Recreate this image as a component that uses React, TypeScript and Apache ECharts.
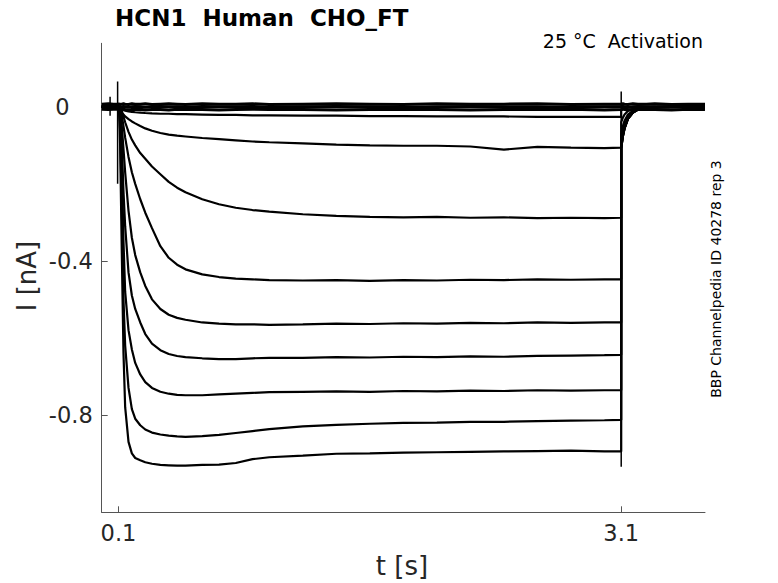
import React, { useEffect, useRef } from "react";
import * as echarts from "echarts";

// time grid (s): pre-step, activation step, plateau, tail after return at 3.1 s
const TIME = [
  0, 0.04, 0.07,
  0.1, 0.105, 0.11, 0.12, 0.13, 0.14, 0.16, 0.18, 0.2, 0.23, 0.26, 0.3, 0.35, 0.4, 0.45, 0.5, 0.6, 0.7, 0.8, 0.9, 1.0,
  1.2, 1.4, 1.6, 1.8, 2.0, 2.2, 2.4, 2.6, 2.8, 3.0, 3.1,
  3.1, 3.11, 3.12, 3.14, 3.17, 3.2, 3.25, 3.3, 3.4, 3.5, 3.6,
];

// currents (nA) per voltage step
const TRACE_A = [
  0.007, 0.008, 0.007,
  0.007, 0.008, 0.006, 0.007, 0.008, 0.007, 0.006, 0.008, 0.007, 0.007, 0.008, 0.006, 0.007, 0.008, 0.007, 0.006, 0.008, 0.007, 0.007, 0.008, 0.006,
  0.007, 0.008, 0.007, 0.006, 0.008, 0.007, 0.007, 0.008, 0.006, 0.007, 0.007,
  0.007, 0.008, 0.007, 0.006, 0.008, 0.007, 0.007, 0.008, 0.006, 0.007, 0.007,
];
const TRACE_B = [
  0, 0.001, -0.001,
  0, 0.001, -0.001, 0, 0.001, 0, -0.001, 0, 0.001, 0, -0.001, 0, 0.001, 0, 0, -0.001, 0.001, 0, 0, 0.001, -0.001,
  0, 0.001, 0, -0.001, 0, 0.001, 0, 0, -0.001, 0, 0,
  0, 0.001, 0, -0.001, 0, 0.001, 0, 0, -0.001, 0, 0,
];
const TRACE_C = [
  -0.006, -0.007, -0.006,
  -0.006, -0.007, -0.008, -0.007, -0.006, -0.007, -0.008, -0.007, -0.007, -0.006, -0.008, -0.007, -0.007, -0.008, -0.006, -0.007, -0.007, -0.008, -0.007, -0.006, -0.007,
  -0.007, -0.008, -0.007, -0.006, -0.007, -0.008, -0.007, -0.007, -0.006, -0.008, -0.007,
  -0.007, -0.006, -0.007, -0.008, -0.007, -0.006, -0.007, -0.007, -0.008, -0.006, -0.007,
];
const TRACE_D = [
  0, 0.001, 0,
  0, -0.004, -0.006, -0.008, -0.009, -0.01, -0.012, -0.013, -0.014, -0.015, -0.016, -0.017, -0.018, -0.018, -0.019, -0.019, -0.02, -0.021, -0.021, -0.022, -0.022,
  -0.023, -0.023, -0.024, -0.024, -0.025, -0.025, -0.025, -0.026, -0.026, -0.026, -0.026,
  -0.01, -0.006, -0.004, -0.002, -0.001, 0, 0, 0, 0, 0, 0,
];
const TRACE_E = [
  0, -0.001, 0,
  0, -0.003, -0.008, -0.015, -0.02, -0.025, -0.032, -0.038, -0.043, -0.05, -0.056, -0.062, -0.068, -0.072, -0.075, -0.077, -0.081, -0.084, -0.087, -0.09, -0.092,
  -0.095, -0.098, -0.1, -0.101, -0.101, -0.103, -0.111, -0.104, -0.106, -0.107, -0.106,
  -0.04, -0.028, -0.02, -0.011, -0.005, -0.003, -0.001, 0, 0, 0, 0,
];
const TRACE_F = [
  0, 0.001, 0,
  0, -0.002, -0.006, -0.012, -0.025, -0.04, -0.065, -0.085, -0.1, -0.12, -0.135, -0.155, -0.175, -0.195, -0.21, -0.222, -0.24, -0.253, -0.262, -0.268, -0.272,
  -0.279, -0.283, -0.286, -0.287, -0.286, -0.288, -0.287, -0.289, -0.288, -0.289, -0.288,
  -0.07, -0.05, -0.036, -0.02, -0.01, -0.005, -0.002, -0.001, 0, 0, 0,
];
const TRACE_G = [
  0, -0.001, 0,
  0, -0.004, -0.01, -0.022, -0.05, -0.08, -0.13, -0.17, -0.2, -0.24, -0.275, -0.315, -0.362, -0.392, -0.41, -0.422, -0.435, -0.442, -0.446, -0.448, -0.45,
  -0.451, -0.45, -0.452, -0.45, -0.451, -0.449, -0.45, -0.448, -0.449, -0.448, -0.448,
  -0.09, -0.065, -0.048, -0.027, -0.013, -0.007, -0.003, -0.001, 0, 0, 0,
];
const TRACE_H = [
  0, 0.001, 0,
  0, -0.005, -0.015, -0.05, -0.11, -0.17, -0.27, -0.34, -0.385, -0.43, -0.465, -0.5, -0.525, -0.54, -0.548, -0.553, -0.56, -0.563, -0.565, -0.565, -0.566,
  -0.565, -0.563, -0.564, -0.562, -0.563, -0.561, -0.562, -0.56, -0.561, -0.56, -0.56,
  -0.1, -0.072, -0.053, -0.03, -0.014, -0.007, -0.003, -0.001, 0, 0, 0,
];
const TRACE_I = [
  0, -0.001, 0,
  0, -0.008, -0.03, -0.1, -0.22, -0.31, -0.43, -0.49, -0.525, -0.56, -0.59, -0.615, -0.632, -0.642, -0.647, -0.65, -0.653, -0.655, -0.655, -0.653, -0.652,
  -0.652, -0.65, -0.651, -0.649, -0.65, -0.648, -0.649, -0.647, -0.646, -0.645, -0.644,
  -0.105, -0.075, -0.055, -0.031, -0.015, -0.007, -0.003, -0.001, 0, 0, 0,
];
const TRACE_J = [
  0, 0.001, 0,
  0, -0.01, -0.04, -0.15, -0.35, -0.48, -0.58, -0.63, -0.665, -0.695, -0.715, -0.73, -0.74, -0.745, -0.748, -0.749, -0.749, -0.747, -0.745, -0.743, -0.741,
  -0.74, -0.739, -0.74, -0.738, -0.739, -0.737, -0.738, -0.736, -0.737, -0.736, -0.736,
  -0.107, -0.076, -0.056, -0.031, -0.015, -0.007, -0.003, -0.001, 0, 0, 0,
];
const TRACE_K = [
  0, -0.001, 0,
  0, -0.015, -0.06, -0.26, -0.5, -0.62, -0.73, -0.785, -0.81, -0.827, -0.838, -0.846, -0.851, -0.854, -0.856, -0.857, -0.855, -0.852, -0.847, -0.842, -0.837,
  -0.83, -0.826, -0.823, -0.821, -0.82, -0.818, -0.818, -0.816, -0.815, -0.814, -0.813,
  -0.107, -0.077, -0.056, -0.031, -0.015, -0.007, -0.003, -0.001, 0, 0, 0,
];
const TRACE_L = [
  0, 0.001, 0,
  0, -0.02, -0.1, -0.38, -0.64, -0.78, -0.87, -0.9, -0.912, -0.918, -0.923, -0.927, -0.93, -0.931, -0.932, -0.932, -0.93, -0.929, -0.925, -0.915, -0.91,
  -0.906, -0.901, -0.9, -0.898, -0.897, -0.896, -0.895, -0.894, -0.893, -0.895, -0.895,
  -0.107, -0.077, -0.056, -0.031, -0.015, -0.007, -0.003, -0.001, 0, 0, 0,
];

const BASE_TRACES = [TRACE_A, TRACE_B, TRACE_C];
const STEP_TRACES = [TRACE_D, TRACE_E, TRACE_F, TRACE_G, TRACE_H, TRACE_I, TRACE_J, TRACE_K, TRACE_L];

// capacitive artefacts: time, top, bottom
const ART_T = [0.05, 0.095, 3.1];
const ART_TOP = [0.026, 0.066, 0.04];
const ART_BOTTOM = [-0.023, -0.2, -0.935];

const X_TICKS = [0.1, 3.1];
const Y_TICKS = [-0.8, -0.4, 0];

const FONT = '"DejaVu Sans", sans-serif';
const INK = "#262626";

export default function App() {
  const ref = useRef<HTMLDivElement>(null);

  useEffect(() => {
    if (!ref.current) return;
    const chart = echarts.init(ref.current, null, { renderer: "svg" });

    const lineSeries = (vals: number[], w: number) => ({
      type: "line",
      data: TIME.map((t, i) => [t, vals[i]]),
      showSymbol: false,
      symbol: "none",
      silent: true,
      lineStyle: { color: "#000", width: w },
    });

    const series: any[] = [
      ...BASE_TRACES.map((v) => lineSeries(v, 3)),
      ...STEP_TRACES.map((v) => lineSeries(v, 2.2)),
      ...ART_T.map((t, i) => ({
        type: "line",
        data: [
          [t, ART_TOP[i]],
          [t, ART_BOTTOM[i]],
        ],
        showSymbol: false,
        symbol: "none",
        silent: true,
        lineStyle: { color: "#000", width: 1.5 },
      })),
    ];

    const option: any = {
      animation: false,
      grid: { left: 101.7, top: 43.3, right: 73, bottom: 70.7, containLabel: false, outerBoundsMode: "none" },
      xAxis: {
        type: "value",
        min: 0,
        max: 3.6,
        axisLine: { show: true, onZero: false, lineStyle: { color: "#555", width: 1 } },
        axisTick: { show: true, inside: true, length: 6, customValues: X_TICKS, lineStyle: { color: "#555" } },
        axisLabel: {
          customValues: X_TICKS,
          formatter: (v: number) => v.toFixed(1),
          fontFamily: FONT,
          fontSize: 22.5,
          color: INK,
          margin: 9,
        },
        splitLine: { show: false },
      },
      yAxis: {
        type: "value",
        min: -1.053,
        max: 0.165,
        axisLine: { show: true, onZero: false, lineStyle: { color: "#555", width: 1 } },
        axisTick: { show: true, inside: true, length: 6, customValues: Y_TICKS, lineStyle: { color: "#555" } },
        axisLabel: {
          customValues: Y_TICKS,
          formatter: (v: number) => (v === 0 ? "{z|0}" : "{n|" + String(v) + "}"),
          margin: 9,
          rich: {
            z: { fontFamily: FONT, fontSize: 22.5, color: INK, padding: [0, 23, 0, 0] },
            n: { fontFamily: FONT, fontSize: 22.5, color: INK },
          },
        },
        splitLine: { show: false },
      },
      graphic: [
        {
          type: "text",
          x: 115,
          y: 17.7,
          style: { text: "HCN1  Human  CHO_FT", font: 'bold 23px "DejaVu Sans", sans-serif', fill: "#000", align: "left", verticalAlign: "middle" },
        },
        {
          type: "text",
          x: 703,
          y: 41,
          style: { text: "25 °C  Activation", font: '19px "DejaVu Sans", sans-serif', fill: "#000", align: "right", verticalAlign: "middle" },
        },
        {
          type: "text",
          x: 716,
          y: 279,
          rotation: Math.PI / 2,
          style: { text: "BBP Channelpedia ID 40278 rep 3", font: '14px "DejaVu Sans", sans-serif', fill: "#000", align: "center", verticalAlign: "middle" },
        },
        {
          type: "text",
          x: 27,
          y: 276,
          rotation: Math.PI / 2,
          style: { text: "I [nA]", font: '26px "DejaVu Sans", sans-serif', fill: INK, align: "center", verticalAlign: "middle" },
        },
        {
          type: "text",
          x: 402,
          y: 566,
          style: { text: "t [s]", font: '26px "DejaVu Sans", sans-serif', fill: INK, align: "center", verticalAlign: "middle" },
        },
      ],
      series,
    };

    chart.setOption(option);
    return () => chart.dispose();
  }, []);

  return (
    <div
      ref={ref}
      style={{ position: "fixed", left: 0, top: 0, width: 778, height: 583, background: "#fff" }}
    />
  );
}
